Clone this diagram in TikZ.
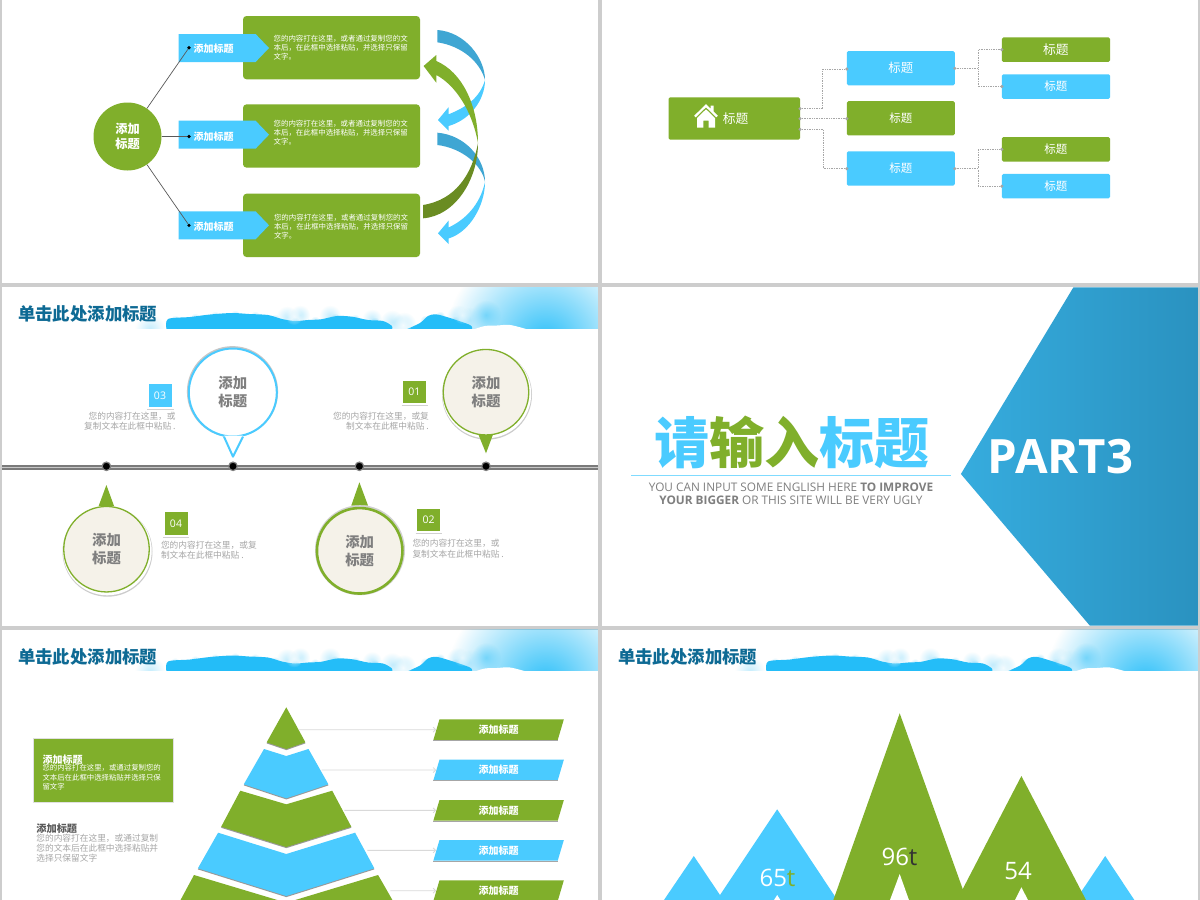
\documentclass[tikz,border=0pt]{standalone}
\usepackage{fontspec}
\setmainfont{Noto Sans CJK SC}
\newfontfamily\latinfont{Open Sans}
\usetikzlibrary{calc,arrows.meta,shapes.geometric,fadings}
\definecolor{leaf}{HTML}{80AF2B}
\definecolor{leafdark}{HTML}{6A8C22}
\definecolor{sky}{HTML}{4ACBFF}
\definecolor{skydark}{HTML}{3FA6D3}
\definecolor{cloudblue}{HTML}{24BDF8}
\definecolor{heading}{HTML}{0E6A94}
\definecolor{sheet}{HTML}{CDCDCD}
\definecolor{cream}{HTML}{F5F2E9}
\definecolor{softtext}{HTML}{A6A6A6}
\definecolor{midtext}{HTML}{7F7F7F}
\definecolor{wedgeleft}{HTML}{36ACDE}
\definecolor{wedgeright}{HTML}{2A92C0}
\tikzfading[name=softdisc,inner color=transparent!0,outer color=transparent!100]
\newcommand\fsz[2]{\fontsize{#1}{#2}\selectfont}
\tikzset{
  x=1pt,y=-1pt,
  plain/.style={inner sep=0,outer sep=0},
  whitetext/.style={plain,text=white,align=left},
  softnote/.style={plain,text=softtext,font=\fsz{8.7}{10.4}},
  tagtitle/.style={plain,text=white,font=\fsz{10}{12}\bfseries},
  dotnode/.style={circle,fill=black,inner sep=0,minimum size=3.6pt},
  spoke/.style={draw=black!65,line width=.7pt},
  card/.style={fill=leaf,rounded corners=3.5pt,minimum width=177pt,minimum height=63.3pt,inner sep=0},
  treebox/.style={rounded corners=1.5pt,inner sep=0,text=white,minimum width=108pt,minimum height=34.2pt,font=\fsz{11.5}{14}},
  leafbox/.style={rounded corners=1.5pt,inner sep=0,text=white,minimum width=108.2pt,minimum height=24.5pt,font=\fsz{11.5}{14}},
  port/.style={circle,fill=softtext,inner sep=0,minimum size=3.4pt},
  link/.style={draw=softtext,line width=.7pt,densely dotted},
  pin/.style={circle,inner sep=0,align=center,text=midtext,font=\fsz{14.4}{18}\bfseries},
  stop/.style={circle,fill=black,draw=black!50,line width=1.2pt,inner sep=0,minimum size=8.5pt},
  numbox/.style={inner sep=0,text=white,minimum width=23pt,minimum height=22.6pt,font=\latinfont\fsz{10.5}{12}},
  rule/.style={draw=black!18,line width=.7pt},
  layer/.style={preaction={fill=black!40,transform canvas={yshift=-1.1pt}}},
  slant/.style={trapezium,trapezium stretches=true,trapezium left angle=77.7,trapezium right angle=102.3,
    minimum width=130.8pt,minimum height=20.7pt,inner sep=0,text=white,font=\fsz{10}{12}\bfseries},
  feeder/.style={draw=black!15,line width=.8pt,-{Straight Barb[length=2.5pt,width=5pt]}},
  peak/.style={plain,text=white,font=\latinfont\fsz{24}{28}}
}
% Title strip with the painted cloud band: shifts in x and y, name of the title node
\newcommand\headerband[3]{%
\begin{scope}[xshift=#1pt,yshift=#2pt]
  \begin{scope}
    \clip (130,287.3) rectangle (597.8,328.3);
    % glow behind the right end of the band
    \fill[cloudblue!85!sky,path fading=softdisc] (545,342) circle (100);
    \fill[cloudblue!75,opacity=.7,path fading=softdisc] (486,315) circle (15);
    \fill[cloudblue!45,opacity=.6,path fading=softdisc] (150,329) circle (15);
    % pale wisps standing above the dark cloud
    \foreach \px/\py/\pr in {287/317/11,300/315/10,330/316/11,372/319/10,392/322/12,404/324/12,458/317/12,470/320/13}{
      \fill[cloudblue!45,opacity=.6,path fading=softdisc] (\px,\py) circle (\pr);
    }
    % soft fringe along the cloud tops
    \foreach \px/\py in {175/320,195/318,215/316,235/315,255/316,275/319,295/322,315/321,335/318,355/319,375/322,425/320,440/316,455/321}{
      \fill[cloudblue,opacity=.35,path fading=softdisc] (\px,\py) circle (5);
    }
    % the dark cloud masses
    \fill[cloudblue] plot[smooth,tension=.5] coordinates {(166.5,329) (168,319) (190,317) (210,314.5) (232,313) (249,314) (268,315) (282,319) (295,321) (308,320) (321,319.3) (337,316) (352,316.7) (368,320) (383,321) (392,326) (392,329)} -- cycle;
    \fill[cloudblue] plot[smooth,tension=.5] coordinates {(407,329) (420,323) (428,316) (436,314.3) (450,318) (470,325) (472,329)} -- cycle;
    % white puffs over the band
    \fill[white,opacity=.6,path fading=softdisc] (294,316) circle (9);
    \fill[white,opacity=.8,path fading=softdisc] (403,325) circle (9);
    \fill[white,opacity=.6,path fading=softdisc] (462,315) circle (9);
    \fill[white] plot[smooth,tension=.6] coordinates {(475,329) (485,326) (497,325.5) (510,325) (526,329)} -- cycle;
  \end{scope}
  \node[plain,anchor=west,text=heading,font=\fsz{17.4}{20}\bfseries] (#3) at (18,314) {单击此处添加标题};
\end{scope}}
\begin{document}
\begin{tikzpicture}
\useasboundingbox (0,0) rectangle (1200,900);
\clip (0,0) rectangle (1200,900);
\fill[sheet] (0,0) rectangle (1200,900);
\fill[white] (1.9,0) rectangle (597.8,282.7);
\fill[white] (601.9,0) rectangle (1197.8,282.7);
\fill[white] (1.9,287.3) rectangle (597.8,625.7);
\fill[white] (601.9,287.3) rectangle (1197.8,625.7);
\fill[white] (1.9,630) rectangle (597.8,900);
\fill[white] (601.9,630) rectangle (1197.8,900);

% ---------- Hub with three cards ----------
\node[circle,fill=leaf,minimum size=68pt,inner sep=0,align=center,text=white,font=\fsz{12.2}{15}\bfseries] (hub) at (127.5,136.5) {添加\\标题};
\node[card] (card1) at (331.5,47.65) {};
\node[card] (card2) at (331.5,136) {};
\node[card] (card3) at (331.5,225.35) {};
\foreach \yc in {48,134.7,225.3}{
  \fill[sky] (178.7,\yc-14) -- (255.6,\yc-14) -- (269,\yc) -- (255.6,\yc+14) -- (178.7,\yc+14) -- cycle;
}
\node[tagtitle,anchor=west] (tag1) at (193.5,48.5) {添加标题};
\node[tagtitle,anchor=west] (tag2) at (193.5,136.5) {添加标题};
\node[tagtitle,anchor=west] (tag3) at (193.5,226.5) {添加标题};
\node[whitetext,anchor=west,font=\fsz{7.45}{9.2}] (note1) at (273.6,47.5) {您的内容打在这里，或者通过复制您的文\\本后，在此框中选择粘贴，并选择只保留\\文字。};
\node[whitetext,anchor=west,font=\fsz{7.45}{9.2}] (note2) at (273.6,132.5) {您的内容打在这里，或者通过复制您的文\\本后，在此框中选择粘贴，并选择只保留\\文字。};
\node[whitetext,anchor=west,font=\fsz{7.45}{9.2}] (note3) at (274,226.5) {您的内容打在这里，或者通过复制您的文\\本后，在此框中选择粘贴，并选择只保留\\文字。};
\node[dotnode] (d1) at (189,47.7) {};
\node[dotnode] (d2) at (189,136.5) {};
\node[dotnode] (d3) at (189,225.3) {};
\draw[spoke] (hub) -- (d1);
\draw[spoke] (hub) -- (d2);
\draw[spoke] (hub) -- (d3);

% Twisted ribbon arrows beside the cards
\fill[skydark] (437.4,30) .. controls (465,32) and (485,58) .. (485,80) .. controls (480,62) and (462,46) .. (437.4,42.3) -- cycle;
\fill[sky] (485,80) .. controls (485,100) and (470,120) .. (448.5,126) -- (448.5,130.7) -- (438,120) -- (448.5,107.3) -- (448.5,114.3) .. controls (465,108) and (480,98) .. (485,80) -- cycle;
\fill[skydark] (437.4,132.7) .. controls (465,135) and (485,158) .. (485,182) .. controls (482,165) and (462,148) .. (437.4,145) -- cycle;
\fill[sky] (485,182) .. controls (485,205) and (470,232) .. (448.5,238.5) -- (448.5,244) -- (438,233.3) -- (448.5,220.7) -- (448.5,227.5) .. controls (465,220) and (480,205) .. (485,182) -- cycle;
\fill[leafdark] (423,205) .. controls (455,200) and (472,175) .. (478,143) .. controls (478,180) and (455,216) .. (423,218.3) -- cycle;
\fill[leaf] (478,143) .. controls (478,105) and (462,72) .. (436.3,61) -- (436.3,55) -- (423.6,66) -- (436.3,82.7) -- (436.3,75) .. controls (455,85) and (472,110) .. (478,143) -- cycle;

% ---------- Organisation tree ----------
\node[rounded corners=1.5pt,fill=leaf,minimum width=131.5pt,minimum height=42.4pt,inner sep=0] (root) at (734.25,118.5) {};
\fill[white,even odd rule]
  (706,104.2) -- (710.5,108.5) -- (710.5,105.5) -- (713.5,105.5) -- (713.5,111.5) -- (717.8,115.7) -- (716.3,117.3) -- (706,107.3) -- (695.7,117.3) -- (694.2,115.7) -- cycle
  (706,109.3) -- (715,118) -- (715,127.7) -- (708.6,127.7) -- (708.6,120.5) -- (703.4,120.5) -- (703.4,127.7) -- (697,127.7) -- (697,118) -- cycle;
\node[plain,text=white,font=\fsz{12.8}{15}] (rootlabel) at (735.6,118.7) {标题};
\node[treebox,fill=sky,font=\fsz{12.4}{15}] (m1) at (900.8,68.2) {标题};
\node[treebox,fill=leaf] (m2) at (900.8,118.3) {标题};
\node[treebox,fill=sky] (m3) at (900.8,168.5) {标题};
\node[leafbox,fill=leaf,font=\fsz{12.8}{15}] (r1) at (1055.9,49.7) {标题};
\node[leafbox,fill=sky] (r2) at (1055.9,86.5) {标题};
\node[leafbox,fill=leaf] (r3) at (1055.9,149.3) {标题};
\node[leafbox,fill=sky] (r4) at (1055.9,186.2) {标题};
\node[port] (pa1) at (800,108.7) {};
\node[port] (pa2) at (800,118.7) {};
\node[port] (pa3) at (800,129.3) {};
\node[port] (ma1) at (846.8,69) {};
\node[port] (ma2) at (846.8,118.7) {};
\node[port] (ma3) at (846.8,168.7) {};
\node[port] (ms1) at (954.8,68.3) {};
\node[port] (ms3) at (954.8,168.7) {};
\node[port] (ra1) at (1001.8,49.7) {};
\node[port] (ra2) at (1001.8,86.5) {};
\node[port] (ra3) at (1001.8,149.3) {};
\node[port] (ra4) at (1001.8,186.2) {};
\draw[link] (pa1) -- ++(22.7,0) |- (ma1);
\draw[link] (pa2) -- (ma2);
\draw[link] (pa3) -- ++(23.5,0) |- (ma3);
\draw[link] (ms1) -- ++(23.2,0) |- (ra1);
\draw[link] (ms1) -- ++(23.2,0) |- (ra2);
\draw[link] (ms3) -- ++(23.2,0) |- (ra3);
\draw[link] (ms3) -- ++(23.2,0) |- (ra4);

% ---------- Timeline with four balloons ----------
\headerband{0}{0}{titleA}
\fill[black!52] (1.9,465.2) rectangle (597.8,469.8);
\fill[black!22] (1.9,467) rectangle (597.8,468);
\node[stop] (s4) at (106.4,466.3) {};
\node[stop] (s3) at (233,466.3) {};
\node[stop] (s2) at (359.4,466.3) {};
\node[stop] (s1) at (486,466.3) {};

\fill[black!22] (232.5,391.7) circle (45.6);
\node[pin,fill=white,draw=sky,line width=2pt,minimum size=88pt] (b3) at (232.8,392.5) {添加\\标题};
\fill[white] (224,435.6) -- (233,456.7) -- (243,435.6) -- cycle;
\draw[sky,line width=2pt,line join=round] (224,436.7) -- (233,456.7) -- (243,436.7);

\fill[black!20] (487,394.7) circle (45);
\fill[white] (486.8,393.9) circle (44.4);
\fill[leaf] (478.4,434.5) -- (486,453.3) -- (493,434.5) -- cycle;
\node[pin,fill=cream,draw=leaf,line width=1.3pt,minimum size=85.5pt] (b1) at (486,392.2) {添加\\标题};

\fill[black!20] (107.5,551.7) circle (45);
\fill[white] (107.3,550.9) circle (44.4);
\fill[leaf] (98.7,505.9) -- (106.4,485) -- (114,505.9) -- cycle;
\node[pin,fill=cream,draw=leaf,line width=1.3pt,minimum size=85.5pt] (b4) at (106.5,549.2) {添加\\标题};

\fill[leaf] (351.3,505.5) -- (359.4,482.3) -- (368,505.5) -- cycle;
\fill[black!18] (360,550.2) circle (45);
\node[pin,fill=cream,draw=leaf,line width=2.6pt,minimum size=85.5pt] (b2) at (359.7,550.8) {添加\\标题};

\node[numbox,fill=sky] (n3) at (160,395.4) {03};
\node[numbox,fill=leaf] (n1) at (414.3,392) {01};
\node[numbox,fill=leaf] (n4) at (176,523.7) {04};
\node[numbox,fill=leaf] (n2) at (428.5,520) {02};
\draw[rule] (147.3,409) -- (174,409);
\draw[rule] (401.5,405.3) -- (427.5,405.3);
\draw[rule] (163,537.3) -- (189,537.3);
\draw[rule] (415.5,533.3) -- (441.5,533.3);
\node[softnote,anchor=east,align=right] (t3) at (175.6,421.2) {您的内容打在这里，或\\复制文本在此框中粘贴 .};
\node[softnote,anchor=east,align=right] (t1) at (428.9,421.2) {您的内容打在这里，或复\\制文本在此框中粘贴 .};
\node[softnote,anchor=west,align=left] (t4) at (161,550.4) {您的内容打在这里，或复\\制文本在此框中粘贴 .};
\node[softnote,anchor=west,align=left] (t2) at (412.5,548.5) {您的内容打在这里，或\\复制文本在此框中粘贴 .};

% ---------- Section divider ----------
\shade[left color=wedgeleft,right color=wedgeright] (1073.4,287.3) -- (960.9,474) -- (1089.9,625.7) -- (1197.8,625.7) -- (1197.8,287.3) -- cycle;
\node[plain,font=\fsz{55}{60}\bfseries,text=sky] (bigtitle) at (792,442) {请\textcolor{leaf}{输入}标题};
\draw[sky!70,line width=.8pt] (631.4,475.3) -- (950.6,475.3);
\node[plain,align=center,text=midtext,font=\latinfont\fsz{11.8}{12.7}] (strap) at (791,493.7) {YOU CAN INPUT SOME ENGLISH HERE \textbf{TO IMPROVE}\\\textbf{YOUR BIGGER} OR THIS SITE WILL BE VERY UGLY};
\node[plain,text=white,font=\latinfont\fsz{47.3}{50}\bfseries] (part) at (1060.5,457) {PART3};

% ---------- Pyramid ----------
\headerband{0}{-342.5}{titleB}
\node[rectangle,fill=leaf,draw=black!12,line width=.4pt,minimum width=139.7pt,minimum height=64pt,inner sep=0] (lead) at (103.2,769.7) {};
\node[plain,anchor=west,text=white,font=\fsz{10}{12}\bfseries] (leadhead) at (42.5,759.3) {添加标题};
\node[whitetext,anchor=north west,font=\fsz{7.4}{9.35}] (leadbody) at (42.5,764.5) {您的内容打在这里，或通过复制您的\\文本后在此框中选择粘贴并选择只保\\留文字};
\node[plain,anchor=west,text=black!65,font=\fsz{10.2}{12}\bfseries] (sidehead) at (36.4,828.3) {添加标题};
\node[plain,anchor=north west,align=left,text=softtext,font=\fsz{8.7}{10.3}] (sidebody) at (36.4,834) {您的内容打在这里，或通过复制\\您的文本后在此框中选择粘贴并\\选择只保留文字};
\fill[leaf,layer] (286.3,707.3) -- (305.4,742.3) -- (286.3,749) -- (266.7,742.3) -- cycle;
\fill[sky,layer] (264,749) -- (286.3,756) -- (308.5,749) -- (328.4,784.3) -- (286.3,798.3) -- (243.8,784.3) -- cycle;
\fill[leaf,layer] (240.3,790.7) -- (286.3,804.3) -- (332.2,790.7) -- (351.3,826.7) -- (286.3,847) -- (221.2,826.7) -- cycle;
\fill[sky,layer] (218.1,832.7) -- (286.3,854) -- (355.1,832.7) -- (374.3,868.3) -- (286.3,896) -- (197.9,868.3) -- cycle;
\fill[leaf] (194,875) -- (286.3,902.7) -- (378.1,875) -- (393,901) -- (180,901) -- cycle;
\node[slant,fill=leaf] (y1) at (498.6,729.65) {添加标题};
\node[slant,fill=sky] (y2) at (498.6,770.05) {添加标题};
\node[slant,fill=leaf] (y3) at (498.6,810.35) {添加标题};
\node[slant,fill=sky] (y4) at (498.6,850.35) {添加标题};
\node[slant,fill=leaf] (y5) at (498.6,890.65) {添加标题};
\foreach \k in {y1,y2,y3,y4,y5}{
  \draw[black!35,line width=.6pt] (\k.bottom left corner) -- (\k.bottom right corner);
}
\coordinate (f1) at (298.5,729.65);
\coordinate (f2) at (321.5,770.05);
\coordinate (f3) at (344.4,810.35);
\coordinate (f4) at (367.4,850.35);
\coordinate (f5) at (390.4,890.65);
\draw[feeder] (f1) -- (y1.west);
\draw[feeder] (f2) -- (y2.west);
\draw[feeder] (f3) -- (y3.west);
\draw[feeder] (f4) -- (y4.west);
\draw[feeder] (f5) -- (y5.west);

% ---------- Peak chart ----------
\headerband{600}{-342.5}{titleC}
\fill[sky] (693.8,856) -- (724,901) -- (663.3,901) -- cycle;
\fill[sky] (1105.2,856) -- (1135,901) -- (1075,901) -- cycle;
\fill[sky] (777.2,809.3) -- (838,901) -- (716,901) -- cycle;
\fill[leaf] (899.7,713.3) -- (967,901) -- (833,901) -- cycle;
\fill[leaf] (1021.4,776) -- (1086.5,901) -- (956.5,901) -- cycle;
\fill[white] (899.7,874) -- (909.3,901) -- (889.6,901) -- cycle;
\fill[white] (1021.4,887.3) -- (1028.5,901) -- (1014.5,901) -- cycle;
\fill[white] (777.2,895) -- (781,901) -- (773.4,901) -- cycle;
\node[peak] (v1) at (777.5,877.7) {65\textcolor{leaf}{t}};
\node[peak] (v2) at (899.5,857.3) {96\textcolor{black!80}{t}};
\node[peak] (v3) at (1018,870.7) {54};
\end{tikzpicture}
\end{document}
